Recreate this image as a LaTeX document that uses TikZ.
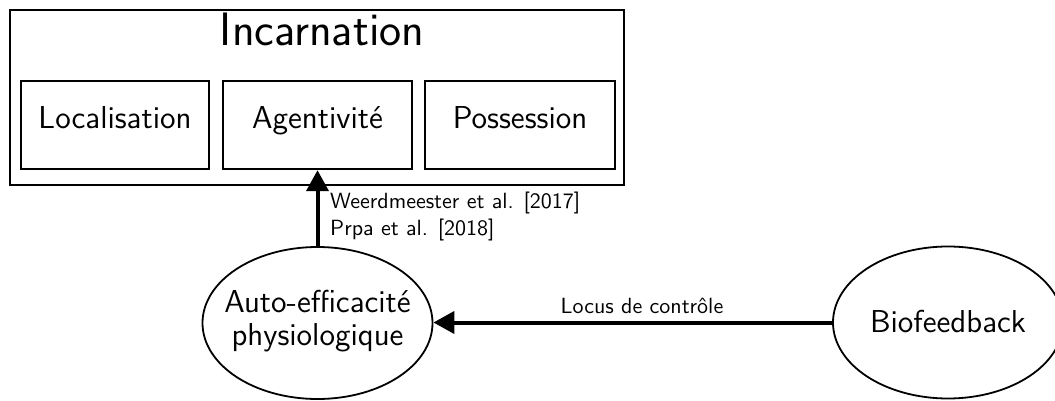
\documentclass[tikz,border=0pt]{standalone}
\usepackage{graphicx}
\usetikzlibrary{shapes.geometric,arrows.meta}
\newcommand{\myscl}[1]{\scalebox{2.2}{#1}}
\begin{document}
\begin{tikzpicture}[x=1pt,y=-1pt,
  font=\sffamily,
  box/.style={draw,line width=2.4pt,inner sep=0pt,text height=21pt,text depth=13pt},
  bub/.style={draw,ellipse,line width=1.8pt,inner sep=0pt,minimum width=230pt,minimum height=152pt},
  lab/.style={inner sep=0pt},
  conn/.style={line width=4pt,-{Triangle[length=21pt,width=22pt]}}]
\useasboundingbox (0,0) rectangle (1055,401);
\node[box,minimum width=614pt,minimum height=175pt] (outer) at (317,97.5) {};
\node[lab,anchor=base] (title) at (322,46) {\scalebox{2.26}{\sffamily\huge Incarnation}};
\node[box,minimum width=188pt,minimum height=88pt] (loc) at (115,125) {\myscl{\sffamily\Large Localisation}};
\node[box,minimum width=189pt,minimum height=88pt] (agt) at (317.5,125) {\myscl{\sffamily\Large Agentivit\'e}};
\node[box,minimum width=190pt,minimum height=88pt] (pos) at (520,125) {\myscl{\sffamily\Large Possession}};
\node[bub] (auto) at (317.5,323) {};
\node[lab,anchor=base] (autotxt) at (317.5,312) {\myscl{\sffamily\Large\begin{tabular}[t]{@{}c@{}}Auto-efficacit\'e\\[-3pt]physiologique\end{tabular}}};
\node[bub] (bio) at (948,322.5) {};
\node[lab,anchor=base] (biotxt) at (948,332) {\myscl{\sffamily\Large Biofeedback}};
\draw[conn] (auto.north) -- (auto.north |- agt.south);
\draw[conn] (bio.west) -- (auto.east |- bio.west);
\node[lab,anchor=base west] (ref1) at (330,208) {\myscl{\sffamily Weerdmeester et al. [2017]}};
\node[lab,anchor=base west] (ref2) at (330,235) {\myscl{\sffamily Prpa et al. [2018]}};
\node[lab,anchor=base] (locus) at (642,313) {\myscl{\sffamily Locus de contr\^ole}};
\end{tikzpicture}
\end{document}
